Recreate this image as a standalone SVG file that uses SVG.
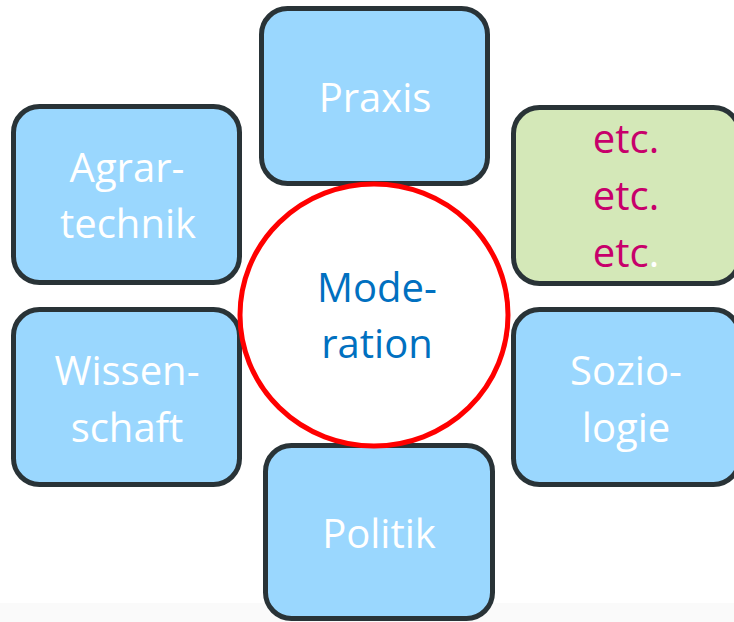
<svg xmlns="http://www.w3.org/2000/svg" width="734" height="622" viewBox="0 0 734 622">
<style>
.box{fill:#9AD7FE;stroke:#293337;stroke-width:5}
.green{fill:#D4E8B8;stroke:#293337;stroke-width:5}
.t{font-family:"Open Sans","Noto Sans",sans-serif;font-size:40px;fill:#FFFFFF;text-anchor:middle}
.etc{fill:#C7006B}
.mod{fill:#0070C0}
</style>
<rect x="0" y="603" width="734" height="19" fill="#FAFAFA"/>
<g id="connectors"></g>
<g id="praxis">
<rect class="box" x="261.5" y="8.5" width="226" height="175" rx="26"/>
<text class="t" x="375" y="112">Praxis</text>
</g>
<g id="agrartechnik">
<rect class="box" x="13.5" y="106.5" width="226" height="176" rx="26"/>
<text class="t" x="127" y="182">Agrar-</text>
<text class="t" x="128" y="238">technik</text>
</g>
<g id="etc">
<rect class="green" x="513.5" y="107.5" width="226" height="176" rx="26"/>
<text class="t etc" x="626" y="153">etc.</text>
<text class="t etc" x="626" y="210">etc.</text>
<text class="t" x="626" y="267"><tspan class="etc">etc</tspan>.</text>
</g>
<g id="wissenschaft">
<rect class="box" x="13.5" y="309.5" width="226" height="175" rx="26"/>
<text class="t" x="127" y="385">Wissen-</text>
<text class="t" x="127" y="442">schaft</text>
</g>
<g id="soziologie">
<rect class="box" x="513.5" y="309.5" width="226" height="175" rx="26"/>
<text class="t" x="626" y="385">Sozio-</text>
<text class="t" x="626" y="442">logie</text>
</g>
<g id="politik">
<rect class="box" x="265.5" y="445.5" width="227" height="173" rx="26"/>
<text class="t" x="379" y="548">Politik</text>
</g>
<g id="moderation">
<ellipse cx="374" cy="315" rx="134" ry="131" fill="#FFFFFF" stroke="#FF0000" stroke-width="5"/>
<text class="t mod" x="377" y="302">Mode-</text>
<text class="t mod" x="377" y="358">ration</text>
</g>
</svg>
